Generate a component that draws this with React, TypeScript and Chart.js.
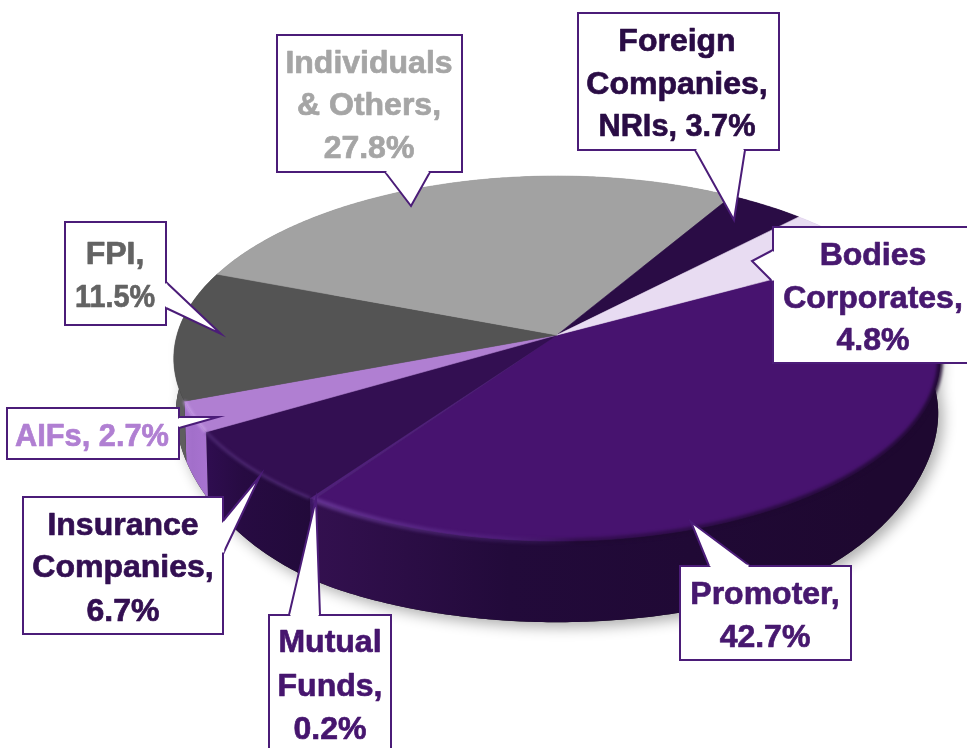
import React, { useEffect, useRef } from "react";
import { Chart, registerables } from "chart.js";

Chart.register(...registerables);

// ---- data (clockwise, starting from the Promoter slice) ----
const categories = ["Promoter", "Mutual Funds", "Insurance Companies", "AIFs", "FPI", "Individuals & Others", "Foreign Companies, NRIs", "Bodies Corporates"];
const shareValues = [42.7, 0.2, 6.7, 2.7, 11.5, 27.8, 3.7, 4.8];
const calloutText = [
  ["Promoter,", "42.7%"],
  ["Mutual", "Funds,", "0.2%"],
  ["Insurance", "Companies,", "6.7%"],
  ["AIFs, 2.7%"],
  ["FPI,", "11.5%"],
  ["Individuals", "& Others,", "27.8%"],
  ["Foreign", "Companies,", "NRIs, 3.7%"],
  ["Bodies", "Corporates,", "4.8%"],
];

// ---- styles ----
const topColors = ["#47136f", "#4f2079", "#330f52", "#b07fd2", "#545454", "#a2a2a2", "#2a0c45", "#e8dcf2"];
const sideColors: string[][] = [
  ["#33104f", "#220a3a", "#1e0830"],
  ["#3a1560", "#3a1560", "#3a1560"],
  ["#2f0d50", "#270b42", "#220a3a"],
  ["#a873d0", "#a26fca", "#a873d0"],
  ["#5e5e5e", "#4e4e4e", "#444444"],
  ["#777777", "#777777", "#777777"],
  ["#1e0830", "#1e0830", "#1e0830"],
  ["#b9a9c8", "#b9a9c8", "#b9a9c8"],
];
const textColors = ["#47186f", "#46156e", "#330f52", "#b07fd2", "#636363", "#a5a5a5", "#2a0c45", "#47186f"];
const BORDER = "#4b1c78";
const FONT = 'bold 32px "Liberation Sans", Arial, sans-serif';

// ---- callout geometry: box [left, top, right, bottom], pointer, text placement, line width limits ----
type Box = { box: number[]; tip: number[][]; cx: number; base: number[]; maxW?: number[] };
const callouts: Box[] = [
  { box: [680, 566, 851, 660], tip: [[709, 566], [691, 522], [750, 566]], cx: 765, base: [604, 647] },
  { box: [269, 615, 391, 790], tip: [[289, 615], [316, 499], [320, 615]], cx: 330, base: [652, 696, 739] },
  { box: [23, 497, 223, 634], tip: [[223, 521], [260, 476], [223, 554]], cx: 123, base: [535, 577, 621] },
  { box: [7, 408, 179, 459], tip: [[179, 417], [218, 417], [179, 428]], cx: 92, base: [446], maxW: [154] },
  { box: [65, 222, 166, 325], tip: [[166, 282], [221, 334], [166, 308]], cx: 115, base: [264, 307], maxW: [60, 80] },
  { box: [277, 35, 462, 172], tip: [[385, 172], [411, 206], [430, 172]], cx: 369, base: [73, 115, 158] },
  { box: [578, 13, 779, 150], tip: [[695, 150], [734, 220], [745, 150]], cx: 677, base: [51, 94, 136], maxW: [999, 999, 157] },
  { box: [773, 227, 975, 363], tip: [[773, 250], [752, 261], [773, 282]], cx: 873, base: [265, 308, 350] },
];

// ---- perspective of the tilted disc ----
const APEX_X = 557, APEX_Y = 335, K = 0.129;
const top = (a: number) => {
  const X = Math.cos(a), Y = Math.sin(a), d = 1 - K * Y;
  return [APEX_X + (380 * X) / d, APEX_Y + (179.5 * Y) / d];
};
const low = (a: number) => {
  const X = Math.cos(a), Y = Math.sin(a), d = 1 - K * Y;
  const t = Math.max(0, (Math.abs(X) - 0.5) / 0.5);
  const rounding = 30 * t * t;
  return [APEX_X + (378 * X) / d, APEX_Y + 84 + (177 * Y) / d - rounding];
};
const arcPts = (f: (a: number) => number[], a0: number, a1: number) => {
  const n = Math.max(2, Math.ceil(Math.abs(a1 - a0) / 0.01));
  const out: number[][] = [];
  for (let i = 0; i <= n; i++) out.push(f(a0 + ((a1 - a0) * i) / n));
  return out;
};
const trace = (ctx: CanvasRenderingContext2D, pts: number[][]) => {
  pts.forEach((p) => ctx.lineTo(p[0], p[1]));
};

const pie3d = {
  id: "pie3d",
  beforeDatasetsDraw(chart: any) {
    const ctx: CanvasRenderingContext2D = chart.ctx;
    const arcs = chart.getDatasetMeta(0).data;
    ctx.save();

    // soft shadow beneath the lower rim
    ctx.save();
    ctx.shadowColor = "rgba(0,0,0,0.32)";
    ctx.shadowBlur = 14;
    ctx.shadowOffsetX = 5;
    ctx.shadowOffsetY = 5;
    ctx.fillStyle = "#222";
    ctx.beginPath();
    trace(ctx, arcPts(low, 0, Math.PI));
    ctx.lineTo(top(Math.PI)[0], top(Math.PI)[1]);
    ctx.lineTo(top(0)[0], top(0)[1]);
    ctx.closePath();
    ctx.fill();
    ctx.restore();

    // side walls
    arcs.forEach((arc: any, i: number) => {
      const a0 = arc.startAngle, a1 = arc.endAngle;
      const t = arcPts(top, a0, a1), b = arcPts(low, a0, a1).reverse();
      const g = ctx.createLinearGradient(Math.min(t[0][0], t[t.length - 1][0]), 0, Math.max(t[0][0], t[t.length - 1][0]) + 1, 0);
      g.addColorStop(0, sideColors[i][0]);
      g.addColorStop(0.35, sideColors[i][1]);
      g.addColorStop(1, sideColors[i][2]);
      ctx.fillStyle = g;
      ctx.beginPath();
      trace(ctx, t);
      trace(ctx, b);
      ctx.closePath();
      ctx.fill();
    });

    // top faces
    arcs.forEach((arc: any, i: number) => {
      ctx.fillStyle = topColors[i];
      ctx.strokeStyle = topColors[i];
      ctx.lineWidth = 0.6;
      ctx.beginPath();
      ctx.moveTo(APEX_X, APEX_Y);
      trace(ctx, arcPts(top, arc.startAngle, arc.endAngle));
      ctx.closePath();
      ctx.fill();
      ctx.stroke();
    });

    // bevel highlights along the near rim
    ctx.save();
    ctx.filter = "blur(1.6px)";
    const rim = (a0: number, a1: number, style: any, w = 3) => {
      ctx.strokeStyle = style;
      ctx.lineWidth = w;
      ctx.beginPath();
      trace(ctx, arcPts(top, a0, a1));
      ctx.stroke();
    };
    const pg = ctx.createLinearGradient(317, 0, 935, 0);
    pg.addColorStop(0, "rgba(110,62,158,0.7)");
    pg.addColorStop(0.3, "rgba(100,55,150,0.25)");
    pg.addColorStop(0.42, "rgba(30,8,48,0.45)");
    pg.addColorStop(1, "rgba(30,8,48,0.85)");
    rim(arcs[0].startAngle, arcs[0].endAngle, pg, 6);
    rim(arcs[2].startAngle, arcs[2].endAngle, "rgba(85,48,125,0.75)");
    rim(arcs[3].startAngle, arcs[3].endAngle, "rgba(205,165,235,0.8)");
    ctx.restore();

    ctx.restore();
    return false; // the default flat arcs are replaced by the projected ones
  },
  afterDraw(chart: any) {
    const ctx: CanvasRenderingContext2D = chart.ctx;
    ctx.save();
    ctx.font = FONT;
    ctx.textAlign = "center";
    ctx.textBaseline = "alphabetic";
    callouts.forEach((c, i) => {
      const [l, t, r, b] = c.box;
      const [p0, p1, p2] = c.tip;
      ctx.fillStyle = "#fff";
      ctx.strokeStyle = BORDER;
      ctx.lineWidth = 2;
      ctx.lineJoin = "miter";
      ctx.beginPath();
      ctx.rect(l, t, r - l, b - t);
      ctx.fill();
      ctx.stroke();
      ctx.beginPath();
      ctx.moveTo(p0[0], p0[1]);
      ctx.lineTo(p1[0], p1[1]);
      ctx.lineTo(p2[0], p2[1]);
      ctx.closePath();
      ctx.fill();
      ctx.beginPath();
      ctx.moveTo(p0[0], p0[1]);
      ctx.lineTo(p1[0], p1[1]);
      ctx.lineTo(p2[0], p2[1]);
      ctx.stroke();
      // cover the box edge under the pointer's root
      ctx.strokeStyle = "#fff";
      ctx.lineWidth = 2.4;
      ctx.beginPath();
      const shrink = (q: number[], o: number[]) => {
        const dx = o[0] - q[0], dy = o[1] - q[1], L = Math.hypot(dx, dy);
        return [q[0] + (dx / L) * 1.5, q[1] + (dy / L) * 1.5];
      };
      const a = shrink(p0, p2), e = shrink(p2, p0);
      ctx.moveTo(a[0], a[1]);
      ctx.lineTo(e[0], e[1]);
      ctx.stroke();
      ctx.fillStyle = textColors[i];
      ctx.strokeStyle = textColors[i];
      ctx.lineWidth = 0.7;
      ctx.lineJoin = "round";
      calloutText[i].forEach((line, j) => {
        const m = c.maxW ? c.maxW[j] : 999;
        ctx.fillText(line, c.cx, c.base[j], m);
        ctx.strokeText(line, c.cx, c.base[j], m);
      });
    });
    ctx.restore();
  },
};

export default function App() {
  const ref = useRef<HTMLCanvasElement>(null);
  useEffect(() => {
    document.body.style.margin = "0";
    document.body.style.overflow = "hidden";
    document.body.style.background = "#fff";
    const chart = new Chart(ref.current!, {
      type: "pie",
      data: {
        labels: categories,
        datasets: [{ data: shareValues, backgroundColor: topColors, borderWidth: 0 }],
      },
      options: {
        animation: false,
        responsive: false,
        devicePixelRatio: 1,
        rotation: 61.3,
        plugins: { legend: { display: false }, tooltip: { enabled: false } },
      },
      plugins: [pie3d],
    } as any);
    return () => chart.destroy();
  }, []);
  return <canvas ref={ref} width={967} height={748} style={{ display: "block", width: 967, height: 748 }} />;
}
